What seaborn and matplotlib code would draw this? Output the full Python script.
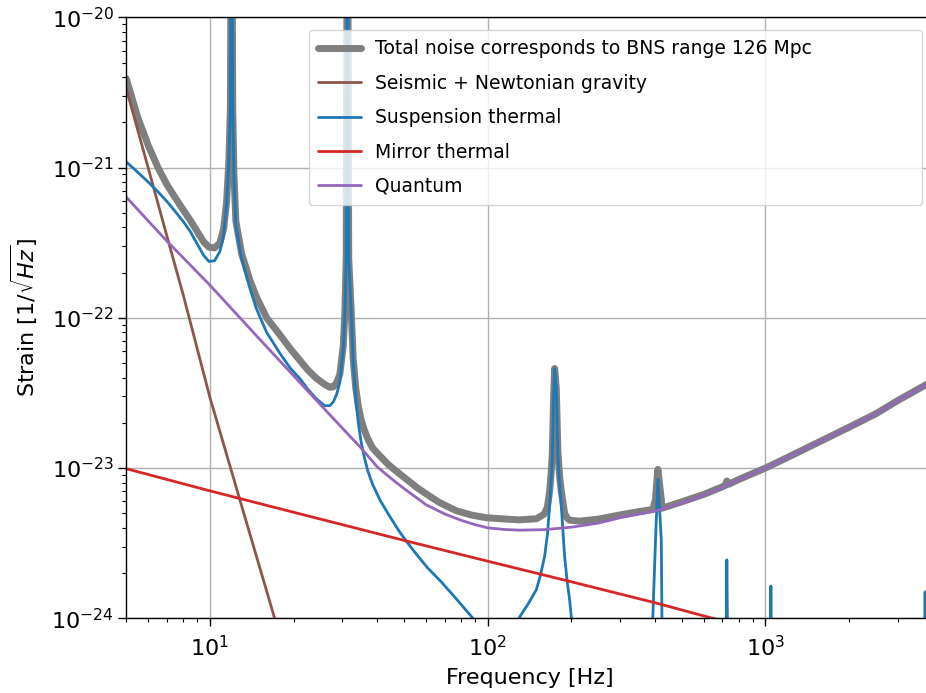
import matplotlib
matplotlib.use("Agg")
import matplotlib.pyplot as plt
import seaborn as sns
import pandas as pd

# ---------------- data ----------------
total_freq = [5, 5.5, 6, 6.5, 7, 7.5, 8, 8.5, 9, 9.5, 9.92, 10.4, 10.86, 11.2, 11.48, 11.7, 11.85,
              11.97, 12.08, 12.2, 12.4, 13.0, 13.93, 14.7, 16.0, 17.9, 19.5, 21.1, 22.5, 24.2,
              25.9, 27.0, 27.8, 28.6, 29.35, 30.2, 30.6, 30.95, 31.27, 31.6, 32.3, 32.8, 33.5,
              34.2, 35.0, 36.0, 37.0, 38.5, 41, 44, 48, 51, 56, 61, 67, 77, 88, 99, 115, 130,
              150, 160, 164, 167.1, 169.3, 170.9, 172.7, 174.2, 176.6, 179, 181.5, 184.1, 189.2,
              193, 197.2, 214, 250, 300, 350, 393, 402, 406, 410, 415, 421.6, 424, 500, 600, 700,
              716, 726, 738, 800, 1000, 1250, 1500, 2000, 2500, 3000, 3800, 4000]
total_val = [3.9e-21, 2.15e-21, 1.4e-21, 1.0e-21, 7.7e-22, 6.3e-22, 5.25e-22, 4.45e-22, 3.75e-22,
             3.2e-22, 2.95e-22, 2.92e-22, 3.15e-22, 3.9e-22, 5.85e-22, 1.1e-21, 2.5e-21,
             3e-19, 2.5e-21, 9.2e-22, 4.4e-22, 2.68e-22, 1.78e-22, 1.38e-22, 1.0e-22, 7.65e-23,
             6.2e-23, 5.2e-23, 4.5e-23, 3.95e-23,
             3.6e-23, 3.45e-23, 3.47e-23, 3.7e-23, 4.2e-23, 6.5e-23, 1.06e-22, 2.5e-22, 3e-19,
             2.5e-22, 1.06e-22, 5.3e-23, 3.4e-23,
             2.6e-23, 2.1e-23, 1.78e-23, 1.57e-23, 1.36e-23, 1.2e-23, 1.05e-23, 9.2e-24,
             8.42e-24, 7.35e-24, 6.6e-24, 5.9e-24, 5.2e-24, 4.85e-24, 4.67e-24, 4.58e-24,
             4.52e-24,
             4.6e-24, 4.95e-24, 5.5e-24, 7.0e-24, 9.4e-24, 1.27e-23, 3.0e-23, 4.6e-23, 3.4e-23,
             1.27e-23, 8.8e-24, 7.0e-24, 5.0e-24,
             4.65e-24, 4.5e-24, 4.43e-24, 4.57e-24, 4.88e-24, 5.13e-24, 5.3e-24, 6.2e-24,
             8.0e-24, 9.8e-24, 8.0e-24, 6.2e-24, 5.4e-24, 5.96e-24, 6.68e-24, 7.5e-24,
             7.65e-24, 8.2e-24, 7.8e-24, 8.38e-24, 1.0e-23, 1.22e-23, 1.44e-23, 1.87e-23,
             2.3e-23, 2.82e-23, 3.6e-23, 3.78e-23]

seismic_freq = [5, 6, 7, 8, 10, 12.8, 17.1, 20]
seismic_val = [3.35e-21, 9.9e-22, 3.5e-22, 1.44e-22, 2.95e-23, 6.2e-24, 1.0e-24, 3.7e-25]

susp_freq = [5, 5.5, 6, 6.5, 7, 7.5, 8, 8.5, 9, 9.5, 9.92, 10.4, 10.86, 11.2, 11.48, 11.7, 11.85,
             11.97, 12.08, 12.2, 12.4, 13.0, 13.93, 14.7, 16.0, 17.9, 19.5, 21.1, 22.5, 24.2,
             25.9, 27.0, 27.8, 28.6, 29.35, 30.2, 30.6, 30.95, 31.27, 31.6, 32.3, 32.8, 33.5,
             34.2, 35.0, 36.0, 37.0, 38.5, 41, 44, 48, 51, 56, 61, 68, 77, 88.5, 100, 115, 125,
             130.3, 140, 149.7, 155, 160.3, 164, 167.1, 169.3, 170.9, 172.7, 174.2, 176.6, 179.0,
             181.5, 184.1, 189.2, 193, 197.2, 200, 220,
             380, 393, 402, 410, 421.6, 424, 440,
             720, 726, 732, 1040, 1046, 1052, 3740, 3756, 3775]
susp_val = [1.09e-21, 9.3e-22, 8.0e-22, 6.9e-22, 5.95e-22, 5.1e-22, 4.4e-22, 3.75e-22, 3.1e-22,
            2.6e-22, 2.37e-22, 2.4e-22, 2.76e-22, 3.5e-22, 5.67e-22, 1.1e-21, 2.5e-21,
            3e-19, 2.5e-21, 9e-22, 4.1e-22, 2.49e-22, 1.57e-22, 1.15e-22, 8.0e-23, 5.77e-23,
            4.6e-23, 3.93e-23, 3.35e-23, 2.88e-23,
            2.6e-23, 2.6e-23, 2.75e-23, 3.1e-23, 3.73e-23, 6.23e-23, 1.04e-22, 2.5e-22, 3e-19,
            2.5e-22, 1.04e-22, 5.0e-23, 2.9e-23,
            2.0e-23, 1.5e-23, 1.17e-23, 9.6e-24, 7.8e-24, 6.1e-24, 4.9e-24, 3.8e-24, 3.25e-24,
            2.6e-24, 2.15e-24, 1.75e-24, 1.35e-24, 1.0e-24, 7e-25, 6e-25, 8e-25,
            1.02e-24, 1.25e-24, 1.55e-24, 1.95e-24, 2.58e-24, 3.6e-24, 5.57e-24, 8.5e-24,
            1.2e-23, 3.0e-23, 4.58e-23, 3.37e-23, 1.2e-23,
            7.7e-24, 5.57e-24, 2.58e-24, 1.8e-24, 1.33e-24, 1.02e-24, 5e-25,
            3e-25, 1.0e-24, 3.34e-24, 8.42e-24, 3.34e-24, 1.0e-24, 3e-25,
            5e-25, 2.45e-24, 5e-25, 5e-25, 1.64e-24, 5e-25, 5e-25, 1.5e-24, 5e-25]

mirror_freq = [5, 10, 20, 50, 100, 200, 400, 700, 1000]
mirror_val = [9.9e-24, 7.05e-24, 5.08e-24, 3.3e-24, 2.4e-24, 1.75e-24, 1.27e-24, 9.6e-25, 8.1e-25]

quantum_freq = [5, 7, 10, 15, 20, 25, 30, 35, 40, 45, 50, 60, 70, 80, 90, 100, 115, 130, 160,
                200, 250, 300, 400, 500, 600, 700, 800, 1000, 1250, 1500, 2000, 2500, 3000,
                3800, 4000]
quantum_val = [6.35e-22, 3.24e-22, 1.65e-22, 7.3e-23, 4.12e-23, 2.64e-23, 1.84e-23, 1.36e-23,
               1.02e-23, 8.5e-24, 7.3e-24, 5.7e-24, 4.95e-24, 4.5e-24, 4.2e-24, 4.0e-24,
               3.9e-24, 3.86e-24, 3.89e-24, 4.04e-24, 4.3e-24, 4.67e-24, 5.17e-24, 5.85e-24,
               6.6e-24, 7.45e-24, 8.35e-24, 1.0e-23, 1.22e-23, 1.44e-23, 1.87e-23, 2.3e-23,
               2.82e-23, 3.6e-23, 3.78e-23]

labels = ["Total noise corresponds to BNS range 126 Mpc", "Seismic + Newtonian gravity",
          "Suspension thermal", "Mirror thermal", "Quantum"]
colors = ["#7f7f7f", "#8c564b", "#1f77b4", "#d62728", "#9467bd"]
x_major_ticks = [10, 100, 1000]
y_major_ticks = [1e-24, 1e-23, 1e-22, 1e-21, 1e-20]

# ---------------- plot ----------------
sns.set_style("ticks")
plt.rcParams["font.family"] = ["DejaVu Sans"]
plt.rcParams["mathtext.fontset"] = "dejavusans"
for k in ["text.color", "axes.labelcolor", "xtick.color", "ytick.color", "axes.edgecolor"]:
    plt.rcParams[k] = "black"

W, H = 926, 693
fig = plt.figure(figsize=(W / 100, H / 100), dpi=100)
ax_left, ax_right, ax_top, ax_bottom = 126.3, 932.7, 17.3, 618.3
ax = fig.add_axes([ax_left / W, (H - ax_bottom) / H, (ax_right - ax_left) / W,
                   (ax_bottom - ax_top) / H])

series = [(total_freq, total_val, 5.0), (seismic_freq, seismic_val, 2.0),
          (susp_freq, susp_val, 2.0), (mirror_freq, mirror_val, 2.0),
          (quantum_freq, quantum_val, 2.0)]
for (f, v, lw), lab, col in zip(series, labels, colors):
    df = pd.DataFrame({"freq": f, "strain": v})
    sns.lineplot(data=df, x="freq", y="strain", ax=ax, color=col, linewidth=lw,
                 label=lab, estimator=None, sort=True)

ax.set_xscale("log")
ax.set_yscale("log")
ax.set_xticks(x_major_ticks)
ax.set_yticks(y_major_ticks)
ax.set_xlim(5, 4000)
ax.set_ylim(1e-24, 1e-20)
ax.grid(True, which="major", color="#b0b0b0", linewidth=1.0)
ax.set_axisbelow(True)
for s in ["top", "right", "left", "bottom"]:
    ax.spines[s].set_visible(True)
    ax.spines[s].set_color("black")
    ax.spines[s].set_linewidth(1.0)
ax.tick_params(which="major", direction="out", length=5.5, width=1, labelsize=16,
               top=False, right=False, colors="black")
ax.tick_params(which="minor", direction="out", length=3, width=0.8, top=False, right=False,
               colors="black", labelleft=False, labelbottom=False)
ax.tick_params(axis="x", which="major", pad=6.5)
ax.set_xlabel("Frequency [Hz]", fontsize=16, labelpad=5.5)
ax.set_ylabel(r"Strain [$1/\sqrt{Hz}$]", fontsize=16, labelpad=8)

aw = ax_right - ax_left
ah = ax_bottom - ax_top
x0 = (309 - ax_left) / aw
wd = (922 - 309) / aw
ytop = (ax_bottom - 30) / ah
leg = ax.legend(loc="upper left", bbox_to_anchor=(x0, ytop - 0.5, wd, 0.5), mode="expand",
                borderaxespad=0, fontsize=13.5, framealpha=0.8, edgecolor="0.8",
                fancybox=True, labelspacing=0.82, borderpad=0.5, handlelength=2.25,
                handletextpad=0.75)

fig.savefig("out.png", dpi=100)
